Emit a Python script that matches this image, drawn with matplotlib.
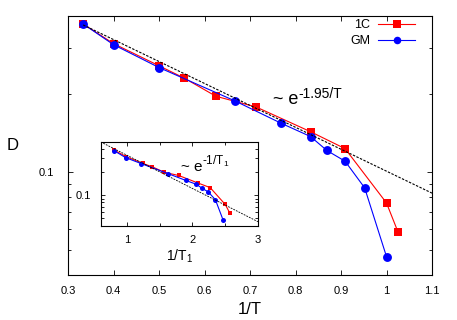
import matplotlib
matplotlib.use('Agg')
import matplotlib.pyplot as plt
import numpy as np
from matplotlib.ticker import FixedLocator, NullFormatter, FuncFormatter, MultipleLocator

plt.rcParams['font.family'] = ['Liberation Sans', 'DejaVu Sans']
plt.rcParams['mathtext.fontset'] = 'custom'
plt.rcParams['mathtext.rm'] = 'Liberation Sans'
plt.rcParams['mathtext.it'] = 'Liberation Sans'

# Données principales (1/T, D)
x_1c = [0.333, 0.400, 0.500, 0.556, 0.625, 0.714, 0.833, 0.909, 1.000, 1.025]
d_1c = [0.373, 0.313, 0.257, 0.230, 0.196, 0.178, 0.143, 0.123, 0.0759, 0.0588]
x_gm = [0.333, 0.400, 0.500, 0.667, 0.769, 0.833, 0.869, 0.909, 0.952, 1.000]
d_gm = [0.373, 0.310, 0.253, 0.188, 0.154, 0.137, 0.121, 0.110, 0.0868, 0.0471]

# Encart (1/T1, D)
x1_1c = [0.81, 0.99, 1.24, 1.39, 1.57, 1.79, 2.08, 2.27, 2.50, 2.57]
d1_1c = [0.384, 0.317, 0.259, 0.233, 0.198, 0.180, 0.144, 0.125, 0.0753, 0.0581]
x1_gm = [0.81, 0.98, 1.22, 1.63, 1.90, 2.06, 2.15, 2.24, 2.35, 2.47]
d1_gm = [0.377, 0.308, 0.257, 0.190, 0.155, 0.138, 0.122, 0.110, 0.0868, 0.0465]

# Ajustements exponentiels
fit_main = (0.7076, 1.95)   # D ~ A exp(-1.95/T)
fit_inset = (0.90, 1.0)     # D ~ A exp(-1/T1)

red = '#ff0000'
blue = '#0000ff'

fig = plt.figure(figsize=(4.57, 3.2), dpi=100)
ax = fig.add_axes([0.1488, 0.1406, 0.7965, 0.8094])

ax.plot(x_1c, d_1c, '-s', color=red, lw=0.8, ms=6.2, mew=0, label='1C')
ax.plot(x_gm, d_gm, '-o', color=blue, lw=0.8, ms=6.4, mew=0, label='GM')
xf = np.linspace(1/3, 1.1, 100)
ax.plot(xf, fit_main[0] * np.exp(-fit_main[1] * xf), '--', color='black',
        lw=0.8, dashes=(2.2, 1.3))

ax.set_yscale('log')
ax.set_xlim(0.3, 1.1)
ax.set_ylim(0.04, 0.4)
ax.xaxis.set_major_locator(MultipleLocator(0.1))
ax.xaxis.set_major_formatter(FuncFormatter(lambda v, p: '{:g}'.format(round(v, 2))))
ax.yaxis.set_major_locator(FixedLocator([0.1]))
ax.yaxis.set_major_formatter(FuncFormatter(lambda v, p: '0.1'))
ax.yaxis.set_minor_locator(FixedLocator([0.04, 0.05, 0.06, 0.07, 0.08, 0.09, 0.2, 0.3, 0.4]))
ax.yaxis.set_minor_formatter(NullFormatter())
ax.tick_params(which='both', direction='in', top=True, right=True, labelsize=8)
ax.tick_params(which='major', length=3.5, width=0.6)
ax.tick_params(which='minor', length=2.5, width=0.6)
ax.tick_params(axis='x', pad=8)
ax.tick_params(axis='y', pad=10)
for s in ax.spines.values():
    s.set_linewidth(0.8)

ax.set_xlabel('1/T', fontsize=12, labelpad=4)
fig.text(0.027, 0.545, 'D', fontsize=12, ha='center', va='center')
t_main = ax.text(0.75, 0.19, '~ e', fontsize=13, ha='left', va='center')
ax.annotate('-1.95/T', xy=(1.0, 0.62), xycoords=t_main, fontsize=10,
            ha='left', va='baseline')

ax.legend(loc='upper right', bbox_to_anchor=(0.985, 1.03), markerfirst=False,
          frameon=False, fontsize=9, handlelength=3.0, handletextpad=0.6,
          labelspacing=0.3, markerscale=0.85)

# Encart
ins = fig.add_axes([0.2203, 0.2953, 0.3443, 0.2625])
ins.plot(x1_1c, d1_1c, '-s', color=red, lw=0.8, ms=3.4, mew=0)
ins.plot(x1_gm, d1_gm, '-o', color=blue, lw=0.8, ms=3.6, mew=0)
xf1 = np.linspace(0.6, 3.0, 100)
ins.plot(xf1, fit_inset[0] * np.exp(-fit_inset[1] * xf1), '--', color='black',
         lw=0.6, dashes=(2.2, 1.3))
ins.set_yscale('log')
ins.set_xlim(0.6, 3.0)
ins.set_ylim(0.04, 0.5)
ins.xaxis.set_major_locator(FixedLocator([1, 2, 3]))
ins.xaxis.set_minor_locator(FixedLocator([1.5, 2.5]))
ins.yaxis.set_major_locator(FixedLocator([0.1]))
ins.yaxis.set_major_formatter(FuncFormatter(lambda v, p: '0.1'))
ins.yaxis.set_minor_locator(FixedLocator([0.04, 0.05, 0.06, 0.07, 0.08, 0.09, 0.2, 0.3, 0.4, 0.5]))
ins.yaxis.set_minor_formatter(NullFormatter())
ins.tick_params(which='both', direction='in', top=True, right=True, labelsize=8)
ins.tick_params(which='major', length=3, width=0.6)
ins.tick_params(which='minor', length=2.2, width=0.6)
ins.tick_params(axis='x', pad=7)
ins.tick_params(axis='y', pad=7)
for s in ins.spines.values():
    s.set_linewidth(0.8)
ins.set_xlabel(r'1/T$_{\rm 1}$', fontsize=10, labelpad=2)
t_ins = ins.text(1.82, 0.235, '~ e', fontsize=11, ha='left', va='center')
ins.annotate(r'-1/T$_{\rm 1}$', xy=(1.0, 0.6), xycoords=t_ins, fontsize=8.5,
             ha='left', va='baseline')

fig.savefig('out.png', dpi=100)
